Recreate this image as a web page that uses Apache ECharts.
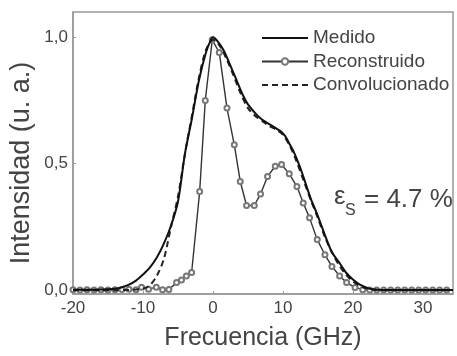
<!DOCTYPE html>
<html>
<head>
<meta charset="utf-8">
<script src="https://cdn.jsdelivr.net/npm/echarts@6/dist/echarts.min.js"></script>
<style>html,body{margin:0;padding:0;background:#fff;}#c{width:457px;height:356px;}</style>
</head>
<body>
<div id="c"></div>
<script>
// Data (x = frequency GHz, y = intensity a.u.)
var medidoX = [-20, -18, -16, -14, -13, -12, -11, -10, -9, -8, -7, -6, -5, -4, -3, -2, -1, -0.3, 0, 0.5, 1.5, 3, 4.3, 5, 6.2, 7, 8.1, 9.6, 10.3, 11, 11.5, 12.4, 12.9, 14, 14.9, 16.3, 17, 18.1, 19, 20, 21, 22.4, 23.5, 25, 34.3];
var medidoY = [0.002, 0.002, 0.003, 0.006, 0.012, 0.022, 0.038, 0.062, 0.09, 0.13, 0.185, 0.255, 0.35, 0.54, 0.68, 0.83, 0.94, 0.99, 1.0, 0.99, 0.95, 0.855, 0.77, 0.735, 0.695, 0.675, 0.656, 0.63, 0.61, 0.575, 0.55, 0.49, 0.45, 0.36, 0.30, 0.196, 0.15, 0.107, 0.07, 0.042, 0.022, 0.006, 0.002, 0.001, 0.001];

var convX = [-20, -14, -12, -11, -10, -9, -8, -7, -6, -5, -4, -3, -2, -1, 0, 1, 2, 3, 4, 5, 6, 7, 8, 9, 10, 11, 12, 13, 14, 15, 16, 17, 18, 19, 20, 21, 22, 23, 24, 34.3];
var convY = [0, 0, 0.001, 0.003, 0.006, 0.02, 0.058, 0.125, 0.25, 0.37, 0.54, 0.69, 0.84, 0.95, 0.99, 0.965, 0.91, 0.845, 0.775, 0.72, 0.69, 0.67, 0.65, 0.635, 0.615, 0.57, 0.505, 0.43, 0.355, 0.285, 0.21, 0.15, 0.1, 0.062, 0.035, 0.017, 0.007, 0.002, 0, 0];

var recX = [-20, -19, -18, -17, -16, -15, -14, -13, -12, -11, -10.2, -9.2, -8.1, -7.2, -6.3, -5.2, -4.5, -3.8, -3.05, -1.9, -1.1, -0.1, 0.9, 2.0, 3.05, 3.9, 4.8, 5.9, 6.8, 7.8, 8.9, 9.8, 10.9, 12.0, 12.9, 13.8, 14.9, 16, 17, 18.1, 19.1, 20.3, 21.4, 22.4, 23.4, 24.4, 25.4, 26.4, 27.4, 28.4, 29.4, 30.4, 31.4, 32.4, 33.4];
var recY = [0.002, 0.001, 0.002, 0.001, 0.002, 0.001, 0.002, 0.003, 0.004, 0.002, 0.012, 0.004, 0.012, 0.002, 0.003, 0.03, 0.04, 0.056, 0.07, 0.39, 0.75, 0.99, 0.94, 0.72, 0.575, 0.43, 0.335, 0.335, 0.38, 0.45, 0.49, 0.497, 0.46, 0.41, 0.345, 0.286, 0.2, 0.14, 0.094, 0.056, 0.03, 0.011, 0.002, 0.001, 0.001, 0.001, 0.001, 0.001, 0.001, 0.001, 0.001, 0.001, 0.001, 0.001, 0.001];

var xTicks = [-20, -10, 0, 10, 20, 30];
var yTicks = [0, 0.5, 1.0];
var seriesNames = ['Medido', 'Reconstruido', 'Convolucionado'];
var yTitle = 'Intensidad (u. a.)';
var xTitle = 'Frecuencia (GHz)';

function pairs(xs, ys) { return xs.map(function (x, i) { return [x, ys[i]]; }); }

var FONT = "'Liberation Sans', Arial, sans-serif";
var chart = echarts.init(document.getElementById('c'), null, { renderer: 'canvas' });
chart.setOption({
  animation: false,
  backgroundColor: '#fff',
  grid: { left: 73, right: 4, top: 12, bottom: 54, show: true, borderColor: '#999', borderWidth: 1.5 },
  xAxis: {
    type: 'value', min: -20, max: 34.3,
    splitLine: { show: false },
    axisLine: { onZero: false, lineStyle: { color: '#999', width: 1.5 } },
    axisTick: { inside: true, length: 3, lineStyle: { color: '#999' }, customValues: xTicks },
    axisLabel: { color: '#444', fontSize: 17, fontFamily: FONT, margin: 6, customValues: xTicks },
    name: xTitle, nameLocation: 'middle', nameGap: 32,
    nameTextStyle: { color: '#444', fontSize: 25, fontFamily: FONT }
  },
  yAxis: {
    type: 'value', min: -0.015, max: 1.1,
    splitLine: { show: false },
    axisLine: { show: true, onZero: false, lineStyle: { color: '#999', width: 1.5 } },
    axisTick: { show: true, inside: true, length: 3, lineStyle: { color: '#999' }, customValues: yTicks },
    axisLabel: { color: '#444', fontSize: 17, fontFamily: FONT, margin: 5, customValues: yTicks,
      formatter: function (v) { return v.toFixed(1).replace('.', ','); } }
  },
  legend: {
    data: [
      { name: 'Medido', itemStyle: { opacity: 0 } },
      { name: 'Reconstruido' },
      { name: 'Convolucionado', itemStyle: { opacity: 0 } }
    ],
    orient: 'vertical', left: 256, top: 23.5,
    itemWidth: 46, itemHeight: 8, itemGap: 4.5,
    textStyle: { color: '#444', fontSize: 19, fontFamily: FONT, lineHeight: 19 }
  },
  series: [
    {
      name: 'Reconstruido', type: 'line', data: pairs(recX, recY), z: 2,
      symbol: 'emptyCircle', symbolSize: 5, showSymbol: true,
      lineStyle: { color: '#333', width: 1.4 },
      itemStyle: { color: '#777', borderWidth: 1 }
    },
    {
      name: 'Convolucionado', type: 'line', data: pairs(convX, convY), z: 3,
      symbol: 'none', smooth: 0.3,
      lineStyle: { color: '#222', width: 2, type: [6, 4] },
      itemStyle: { color: '#222' }
    },
    {
      name: 'Medido', type: 'line', data: pairs(medidoX, medidoY), z: 4,
      symbol: 'none', smooth: 0.3,
      lineStyle: { color: '#111', width: 2 },
      itemStyle: { color: '#111' }
    }
  ],
  graphic: [
    { type: 'text', x: 22, y: 163, rotation: Math.PI / 2,
      style: { text: yTitle, fontSize: 27, fontFamily: FONT, fill: '#444', align: 'center', verticalAlign: 'middle' } },
    { type: 'text', left: 334, top: 184, style: { text: 'ε', fontSize: 26, fontFamily: FONT, fill: '#444' } },
    { type: 'text', left: 345, top: 203, style: { text: 'S', fontSize: 16, fontFamily: FONT, fill: '#444' } },
    { type: 'text', left: 364, top: 187, style: { text: '= 4.7 %', fontSize: 26, fontFamily: FONT, fill: '#444' } }
  ]
});
</script>
</body>
</html>
